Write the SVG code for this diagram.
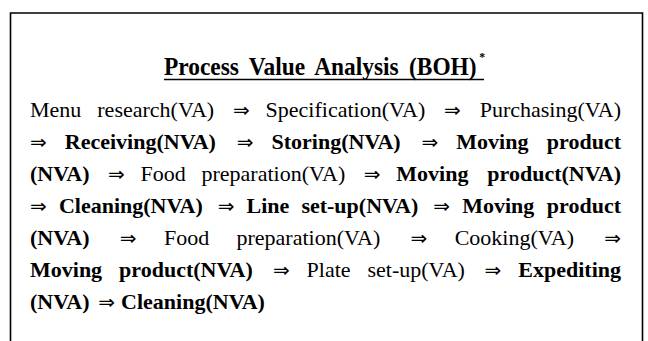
<svg xmlns="http://www.w3.org/2000/svg" width="648" height="341" viewBox="0 0 648 341">
<style>
.frame{fill:none;stroke:#000;stroke-width:1.6}
.t{font-family:"Liberation Serif","Times New Roman",serif;font-size:22px;fill:#000}
.b{font-weight:bold}
.e{text-anchor:end}
.ar{font-family:"DejaVu Sans",sans-serif;font-size:20px}
.title{font-family:"Liberation Serif","Times New Roman",serif;font-size:26px;font-weight:bold;fill:#000;word-spacing:5px}
</style>
<rect width="648" height="341" fill="#fff"/>
<g id="frame">
<path class="frame" d="M10.5,341 V13 H642.5 V341"/>
</g>
<g id="title">
<text class="title" transform="translate(164,75) scale(0.9,1)" x="0" y="0">Process Value Analysis (BOH)<tspan dx="3" dy="-14" font-size="13" word-spacing="0">*</tspan></text>
<line x1="164" y1="79.5" x2="484" y2="79.5" stroke="#000" stroke-width="1.5"/>
</g>
<g id="body">
<text class="t" y="117"><tspan x="30">Menu</tspan><tspan x="97.3">research(VA)</tspan><tspan class="ar" x="232.9">⇒</tspan><tspan x="265.6">Specification(VA)</tspan><tspan class="ar" x="444.1">⇒</tspan><tspan class="e" x="621">Purchasing(VA)</tspan></text>
<text class="t" y="149"><tspan class="ar" x="30">⇒</tspan><tspan class="b" x="64.8">Receiving(NVA)</tspan><tspan class="ar" x="236.8">⇒</tspan><tspan class="b" x="271.5">Storing(NVA)</tspan><tspan class="ar" x="421.5">⇒</tspan><tspan class="b" x="456.3">Moving</tspan><tspan class="b e" x="621">product</tspan></text>
<text class="t" y="181"><tspan class="b" x="30">(NVA)</tspan><tspan class="ar" x="108">⇒</tspan><tspan x="140.5">Food</tspan><tspan x="201.5">preparation(VA)</tspan><tspan class="ar" x="363.8">⇒</tspan><tspan class="b" x="396.3">Moving</tspan><tspan class="b e" x="621">product(NVA)</tspan></text>
<text class="t" y="213"><tspan class="ar" x="30">⇒</tspan><tspan class="b" x="58.9">Cleaning(NVA)</tspan><tspan class="ar" x="217.7">⇒</tspan><tspan class="b" x="246.5">Line</tspan><tspan class="b" x="301.4">set-up(NVA)</tspan><tspan class="ar" x="433.3">⇒</tspan><tspan class="b" x="462.2">Moving</tspan><tspan class="b e" x="621">product</tspan></text>
<text class="t" y="245"><tspan class="b" x="30">(NVA)</tspan><tspan class="ar" x="119.7">⇒</tspan><tspan x="163.9">Food</tspan><tspan x="236.5">preparation(VA)</tspan><tspan class="ar" x="410.5">⇒</tspan><tspan x="454.7">Cooking(VA)</tspan><tspan class="ar e" x="621">⇒</tspan></text>
<text class="t" y="277"><tspan class="b" x="30">Moving</tspan><tspan class="b" x="119.1">product(NVA)</tspan><tspan class="ar" x="272.9">⇒</tspan><tspan x="306.6">Plate</tspan><tspan x="367.5">set-up(VA)</tspan><tspan class="ar" x="484.6">⇒</tspan><tspan class="b e" x="621">Expediting</tspan></text>
<text class="t" y="309"><tspan class="b" x="30">(NVA)</tspan><tspan class="ar" x="98.3">⇒</tspan><tspan class="b" x="121.1">Cleaning(NVA)</tspan></text>
</g>
</svg>
